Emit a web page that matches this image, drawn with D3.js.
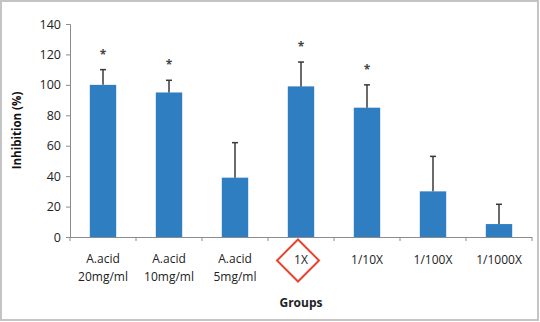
<!DOCTYPE html>
<html><head><meta charset="utf-8">
<script src="https://cdn.jsdelivr.net/npm/d3@7"></script>
<style>body{margin:0;background:#fff}svg{display:block}</style>
</head><body>
<script>
const categories = [["A.acid","20mg/ml"],["A.acid","10mg/ml"],["A.acid","5mg/ml"],["1X"],["1/10X"],["1/100X"],["1/1000X"]];
const values = [100, 95, 39, 99, 85, 30, 8.5];
const errors = [10, 8, 23, 16, 15, 23, 13];
const significant = [true, true, false, true, true, false, false];
const yTicks = [0,20,40,60,80,100,120,140];
const highlighted = 3;

const W=540,H=322;
const svg=d3.select("body").append("svg").attr("width",W).attr("height",H);
svg.append("rect").attr("x",1).attr("y",1).attr("width",537).attr("height",319).attr("fill","#fff").attr("stroke","#c4c4c4").attr("stroke-width",2);

const m={l:70,r:532,t:24,b:237};
const x=d3.scaleBand().domain(d3.range(categories.length)).range([m.l,m.r]).paddingInner(0.6).paddingOuter(0.3);
const y=d3.scaleLinear().domain([0,140]).range([m.b,m.t]);
const font="'Open Sans', 'Liberation Sans', sans-serif";
const axisCol="#8c8c8c";

// y axis
const ya=svg.append("g").attr("transform",`translate(${m.l},0)`).call(d3.axisLeft(y).tickValues(yTicks).tickSize(4).tickPadding(5));
ya.select(".domain").attr("stroke",axisCol);
ya.selectAll(".tick line").attr("stroke",axisCol);
ya.selectAll("text").attr("font-family",font).attr("font-size",12.5).attr("fill","#222");

// x axis baseline + ticks at boundaries
const bounds=d3.range(categories.length+1).map(i=>m.l+i*(m.r-m.l)/categories.length);
svg.append("line").attr("x1",m.l).attr("x2",m.r).attr("y1",m.b+0.5).attr("y2",m.b+0.5).attr("stroke",axisCol);
svg.selectAll(".xt").data(bounds).enter().append("line").attr("x1",d=>d).attr("x2",d=>d).attr("y1",m.b).attr("y2",m.b+4).attr("stroke",axisCol);

// bars
svg.selectAll(".bar").data(values).enter().append("rect")
 .attr("x",(d,i)=>x(i)).attr("width",x.bandwidth())
 .attr("y",d=>y(d)).attr("height",d=>y(0)-y(d)).attr("fill","#2f7ec1");

// error bars
const eg=svg.append("g").attr("stroke","#3a3a3a").attr("stroke-width",1.5);
values.forEach((v,i)=>{
  const cx=x(i)+x.bandwidth()/2;
  eg.append("line").attr("x1",cx).attr("x2",cx).attr("y1",y(v)).attr("y2",y(v+errors[i]));
  eg.append("line").attr("x1",cx-3).attr("x2",cx+3).attr("y1",y(v+errors[i])).attr("y2",y(v+errors[i]));
});

// stars
values.forEach((v,i)=>{
  if(!significant[i])return;
  const cx=x(i)+x.bandwidth()/2;
  svg.append("text").attr("x",cx).attr("y",y(v+errors[i])-11).attr("text-anchor","middle")
   .attr("font-family",font).attr("font-size",12).attr("font-weight","bold").attr("fill","#444").text("*");
});

// x labels
categories.forEach((lines,i)=>{
  const cx=x(i)+x.bandwidth()/2;
  const t=svg.append("text").attr("text-anchor","middle").attr("font-family",font).attr("font-size",12).attr("fill","#222");
  if(lines.length===1){
    t.append("tspan").attr("x",cx).attr("y",264).text(lines[0]);
  } else {
    lines.forEach((s,j)=>t.append("tspan").attr("x",cx).attr("y",263+j*18).text(s));
  }
});

// red diamond around highlighted
{
  const cx=x(highlighted)+x.bandwidth()/2-3, cy=260.5, r=21;
  svg.append("path").attr("d",`M${cx},${cy-r}L${cx+r},${cy}L${cx},${cy+r}L${cx-r},${cy}Z`)
   .attr("fill","none").attr("stroke","#e8432c").attr("stroke-width",2);
}

// axis titles
svg.append("text").attr("x",(m.l+m.r)/2).attr("y",307).attr("text-anchor","middle")
 .attr("font-family",font).attr("font-size",12).attr("font-weight","bold").attr("fill","#222").text("Groups");
svg.append("text").attr("transform",`translate(21,${(m.t+m.b)/2}) rotate(-90)`).attr("text-anchor","middle")
 .attr("font-family",font).attr("font-size",11.5).attr("font-weight","bold").attr("fill","#111").text("Inhibition (%)");
</script>
</body></html>
